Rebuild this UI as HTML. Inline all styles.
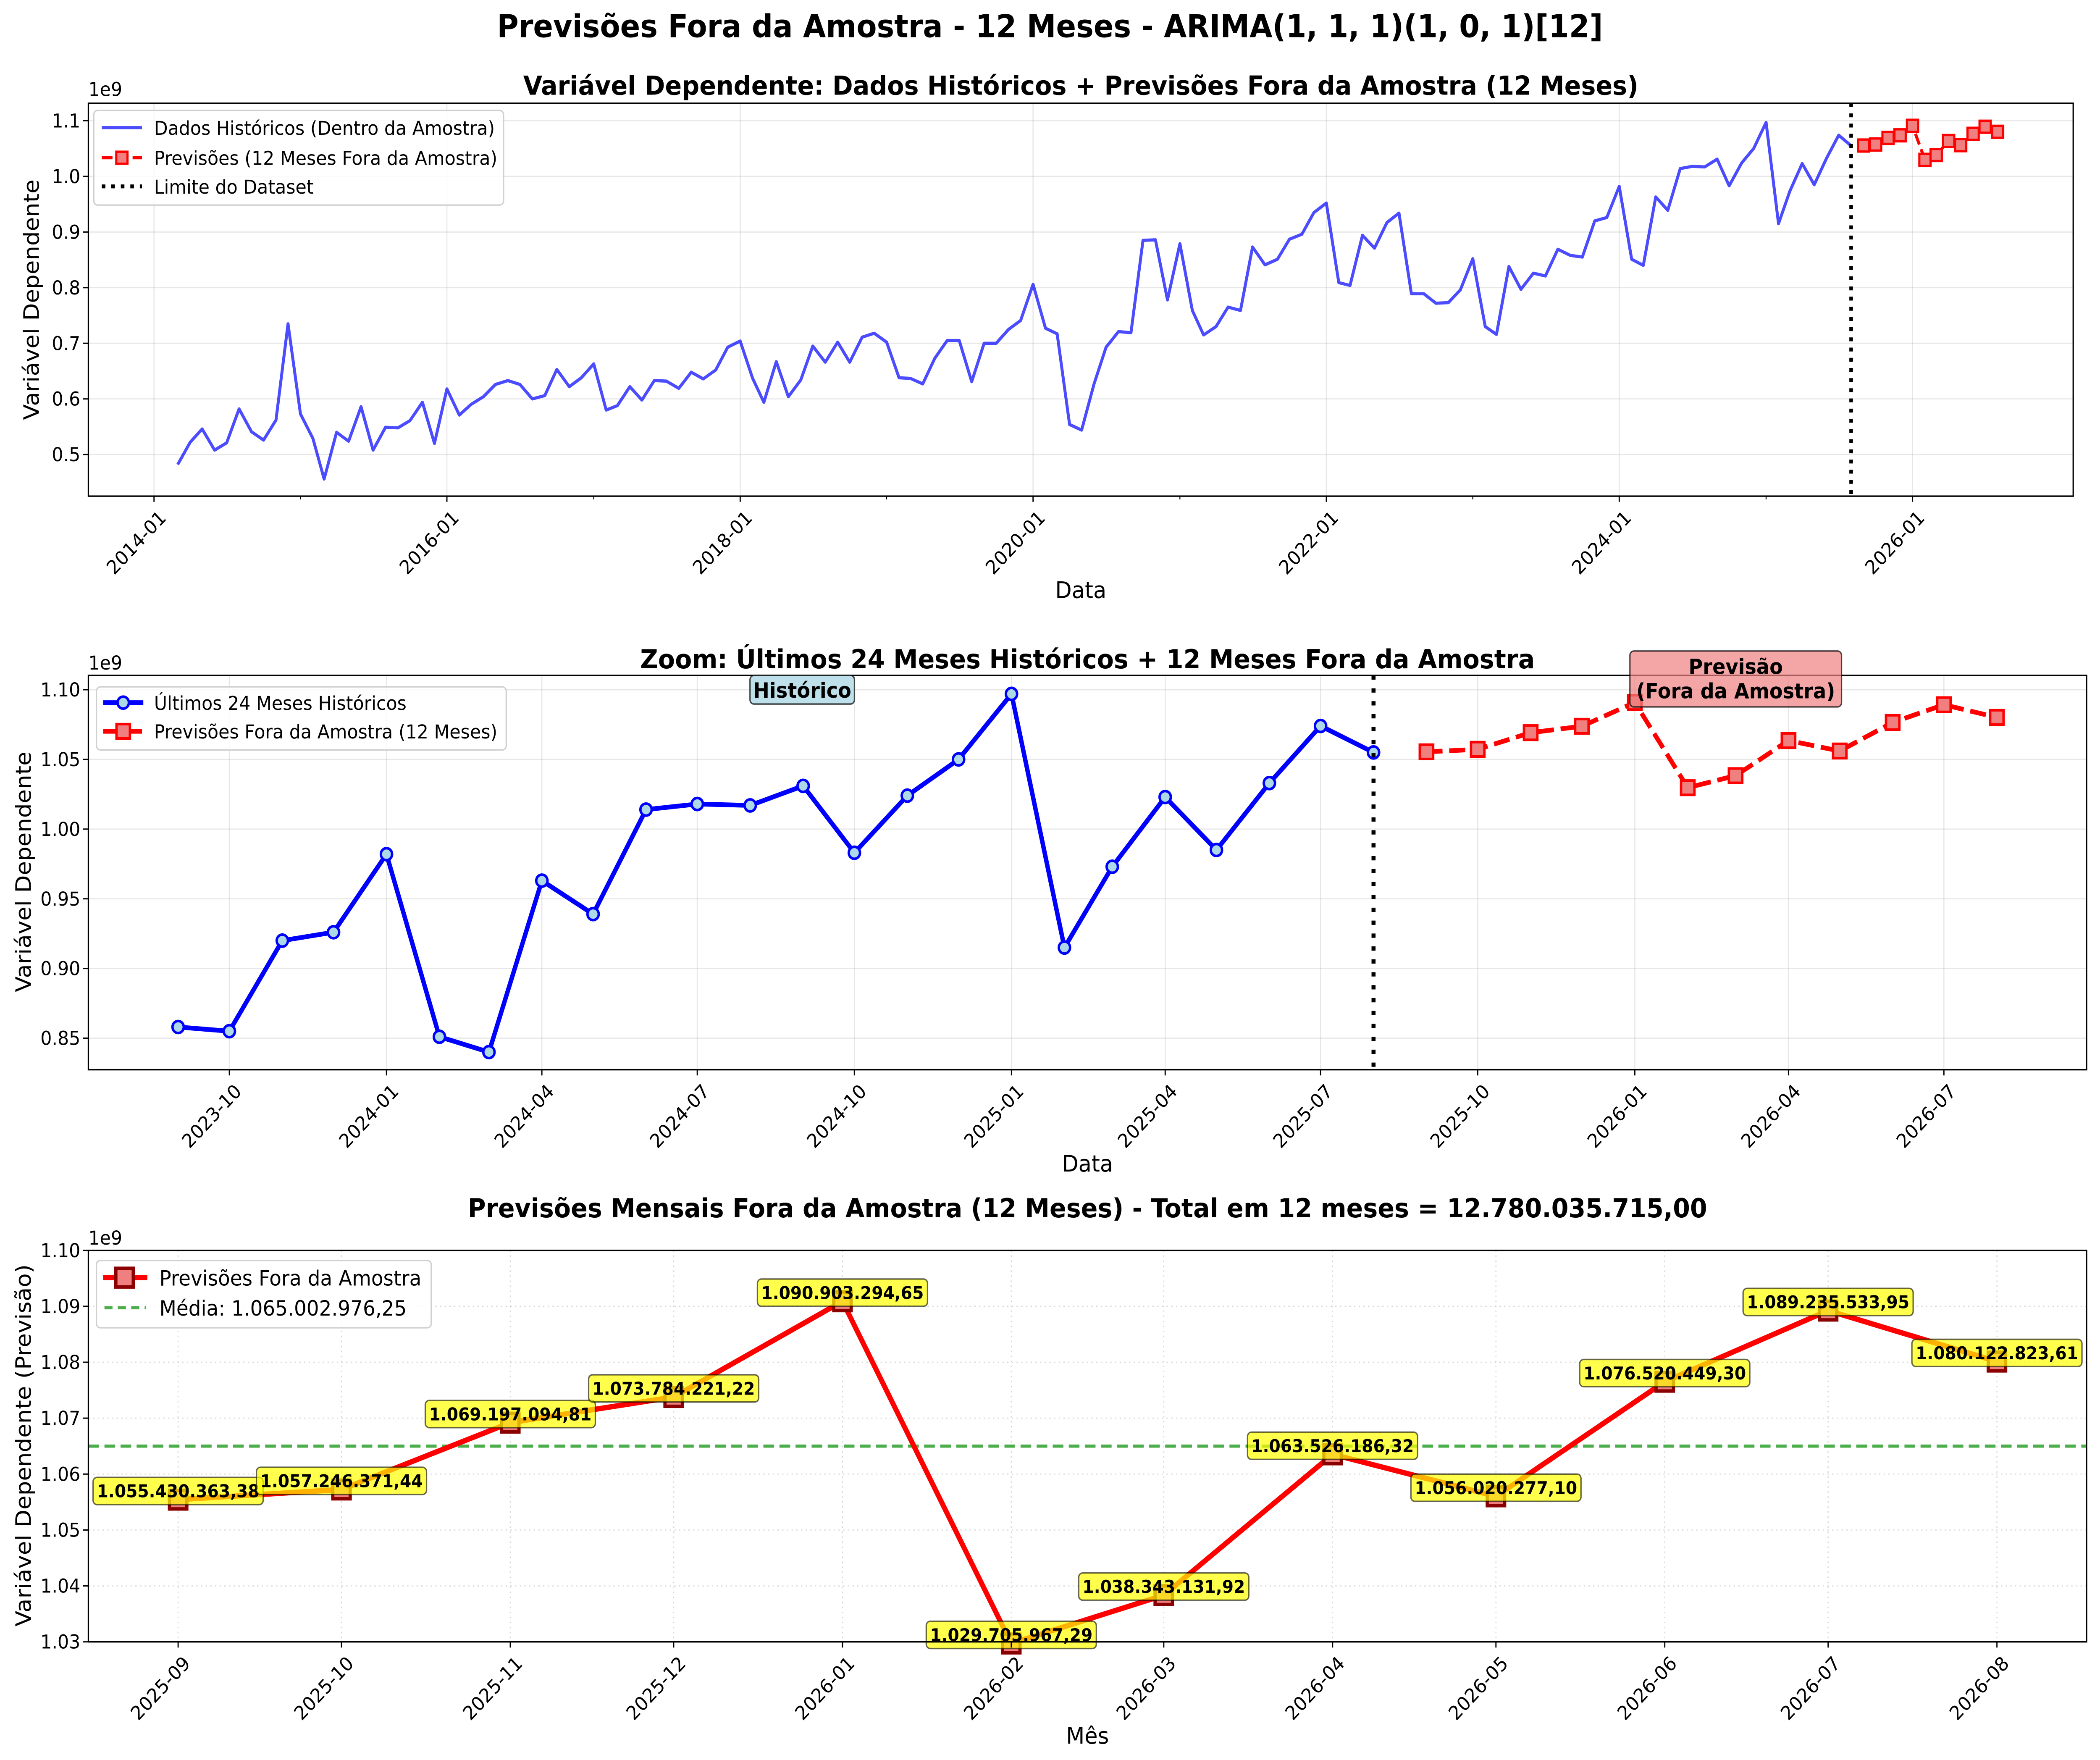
<!DOCTYPE html>
<html><head><meta charset="utf-8">
<style>
html,body{margin:0;padding:0;background:#fff;overflow:hidden;width:100%;height:100%;}
svg{display:block;position:fixed;left:0;top:0;width:100%;height:100%;}
text{font-family:"DejaVu Sans","Liberation Sans",sans-serif;}
</style></head>
<body>
<svg id="fig" xmlns="http://www.w3.org/2000/svg" viewBox="0 0 1568 1227.4" preserveAspectRatio="none">
<rect x="0" y="0" width="1568" height="1228" fill="#fff"/>
</svg>
<script>
// ---------- DATA ----------
const histStart = [2014, 3];
const histValues = [0.482,0.522,0.546,0.508,0.521,0.582,0.541,0.526,0.562,0.735,
0.573,0.529,0.456,0.540,0.524,0.586,0.508,0.549,0.548,0.561,0.594,0.520,
0.618,0.571,0.590,0.604,0.626,0.633,0.626,0.600,0.606,0.653,0.622,0.638,
0.663,0.580,0.588,0.622,0.598,0.633,0.632,0.619,0.648,0.636,0.652,0.693,
0.704,0.637,0.594,0.667,0.604,0.634,0.695,0.666,0.702,0.666,0.711,0.718,
0.702,0.638,0.637,0.627,0.673,0.705,0.705,0.631,0.700,0.700,0.725,0.741,
0.806,0.727,0.717,0.554,0.544,0.627,0.693,0.721,0.719,0.885,0.886,0.778,
0.879,0.759,0.715,0.730,0.765,0.759,0.873,0.841,0.851,0.887,0.896,0.935,
0.952,0.809,0.804,0.894,0.871,0.917,0.934,0.789,0.789,0.772,0.773,0.796,
0.852,0.730,0.716,0.838,0.797,0.826,0.821,0.869,
0.858,0.855,0.920,0.926,
0.982,0.851,0.840,0.963,0.939,1.014,1.018,1.017,1.031,0.983,1.024,1.050,
1.097,0.915,0.973,1.023,0.985,1.033,1.074,1.055];
const last24Start = [2023, 9];
const last24Values = [0.858,0.855,0.920,0.926,0.982,0.851,0.840,0.963,0.939,1.014,1.018,1.017,1.031,0.983,1.024,1.050,1.097,0.915,0.973,1.023,0.985,1.033,1.074,1.055];
const fcStart = [2025, 9];
const fcValues = [1055430363.38,1057246371.44,1069197094.81,1073784221.22,1090903294.65,1029705967.29,1038343131.92,1063526186.32,1056020277.10,1076520449.30,1089235533.95,1080122823.61];
const meanValue = 1065002976.25;
const totalValue = 12780035715.00;
const ticks1Y = [0.5,0.6,0.7,0.8,0.9,1.0,1.1];
const ticks1Years = [2014,2016,2018,2020,2022,2024,2026];
const ticks2Y = [0.85,0.90,0.95,1.00,1.05,1.10];
const ticks2Months = [[2023,10],[2024,1],[2024,4],[2024,7],[2024,10],[2025,1],[2025,4],[2025,7],[2025,10],[2026,1],[2026,4],[2026,7]];
const ticks3Y = [1.03,1.04,1.05,1.06,1.07,1.08,1.09,1.10];

// ---------- HELPERS ----------
const NS = "http://www.w3.org/2000/svg";
const svg = document.getElementById('fig');
const FT = 13.4;   // tick font
const FL = 13.4;   // legend font
const FTI = 18.4;  // axes title
const FAX = 16;    // axis label
function el(tag, attrs, parent){ const e=document.createElementNS(NS,tag); for(const k in attrs) e.setAttribute(k,attrs[k]); (parent||svg).appendChild(e); return e; }
function txt(s, attrs, parent){ const t=el('text',attrs,parent); t.textContent=s; return t; }
function dayNum(y,m){ return Date.UTC(y,m-1,1)/86400000; }
function addMonths(start,i){ let y=start[0], m=start[1]+i; while(m>12){m-=12;y++;} return [y,m]; }
function fmtBR(v){ const neg=v<0; v=Math.abs(v); const s=v.toFixed(2); let [ip,dp]=s.split('.'); ip=ip.replace(/\B(?=(\d{3})+(?!\d))/g,'.'); return (neg?'-':'')+ip+','+dp; }
function pad2(n){ return (n<10?'0':'')+n; }
function xtickLabel(g, x, yAxis, label){
  const t=txt(label,{x:x+3,y:yAxis+9,'text-anchor':'end','dominant-baseline':'hanging','font-size':FT,transform:`rotate(-45 ${x+3} ${yAxis+9})`,fill:'#000'},g);
  
  
}

// ---------- SUPTITLE ----------
const sup = txt('Previsões Fora da Amostra - 12 Meses - ARIMA(1, 1, 1)(1, 0, 1)[12]',{x:784,y:26,'text-anchor':'middle','font-size':22,'font-weight':'bold'});



// ================= CHART 1 =================
(function(){
  const g=el('g',{});
  
  
  const L=66,R=1548,T=72,B=346;
  const d0=dayNum(2014,1), px=0.29957, x0=115;
  const X=(y,m)=>x0+(dayNum(y,m)-d0)*px;
  const Y=v=>317-(v-0.5)*388;
  ticks1Y.forEach(v=>{ const l=el('line',{x1:L,x2:R,y1:Y(v),y2:Y(v),stroke:'#b0b0b0','stroke-opacity':0.3,'stroke-width':0.8},g);
      });
  ticks1Years.forEach(yr=>{ const x=X(yr,1); const l=el('line',{x1:x,x2:x,y1:T,y2:B,stroke:'#b0b0b0','stroke-opacity':0.3,'stroke-width':0.8},g);
      });
  const pts=histValues.map((v,i)=>{const [y,m]=addMonths(histStart,i); return X(y,m)+','+Y(v);}).join(' ');
  const hl=el('polyline',{points:pts,fill:'none',stroke:'#0000ff','stroke-opacity':0.7,'stroke-width':2.2,'stroke-linejoin':'round'},g);
   
  const [ly,lm]=addMonths(histStart,histValues.length-1);
  const bx=X(ly,lm);
  const bl=el('line',{x1:bx,x2:bx,y1:T,y2:B,stroke:'#000','stroke-width':2.7,'stroke-dasharray':'2.7 4.4'},g);
   
  const fp=fcValues.map((v,i)=>{const [y,m]=addMonths(fcStart,i); return [X(y,m),Y(v/1e9)];});
  const fl=el('polyline',{points:fp.map(p=>p.join(',')).join(' '),fill:'none',stroke:'#ff0000','stroke-width':2.2,'stroke-dasharray':'8 3.5'},g);
   
  fp.forEach(p=>{ const r=el('rect',{x:p[0]-4.2,y:p[1]-4.2,width:8.4,height:8.4,fill:'#f08080',stroke:'#ff0000','stroke-width':1.6},g);
      });
  const fr=el('rect',{x:L,y:T,width:R-L,height:B-T,fill:'none',stroke:'#000','stroke-width':1},g);
   
  ticks1Y.forEach(v=>{ el('line',{x1:L-4,x2:L,y1:Y(v),y2:Y(v),stroke:'#000','stroke-width':0.9},g);
    const t=txt(v.toFixed(1),{x:L-6,y:Y(v)+4.7,'text-anchor':'end','font-size':FT},g);
      });
  for(let yr=2014; yr<=2026; yr++){ const x=X(yr,1); const major=ticks1Years.includes(yr);
    el('line',{x1:x,x2:x,y1:B,y2:B+(major?4:2.3),stroke:'#000','stroke-width':major?0.9:0.7},g);
    if(major) xtickLabel(g,x,B,yr+'-01'); }
  const e9=txt('1e9',{x:L,y:67,'font-size':FT},g);  
  const tt=txt('Variável Dependente: Dados Históricos + Previsões Fora da Amostra (12 Meses)',{x:807,y:66,'text-anchor':'middle','font-size':FTI,'font-weight':'bold'},g);
   
  const xl=txt('Data',{x:807,y:417,'text-anchor':'middle','font-size':FAX},g);  
  const yl=txt('Variável Dependente',{x:0,y:0,'text-anchor':'middle','font-size':FAX,transform:'translate(29 209) rotate(-90)'},g);
   
  const lg=el('g',{},g);  
  el('rect',{x:70,y:77,width:306,height:66,rx:3,fill:'#fff','fill-opacity':0.8,stroke:'#d0d0d0','stroke-width':1},lg);
  el('line',{x1:76,x2:106,y1:89,y2:89,stroke:'#0000ff','stroke-opacity':0.7,'stroke-width':2.2},lg);
  let t=txt('Dados Históricos (Dentro da Amostra)',{x:115,y:94,'font-size':FL},lg);  
  el('line',{x1:76,x2:106,y1:110,y2:110,stroke:'#ff0000','stroke-width':2.2,'stroke-dasharray':'8 3.5'},lg);
  el('rect',{x:86.8,y:105.8,width:8.4,height:8.4,fill:'#f08080',stroke:'#ff0000','stroke-width':1.6},lg);
  t=txt('Previsões (12 Meses Fora da Amostra)',{x:115,y:115,'font-size':FL},lg);  
  el('line',{x1:76,x2:106,y1:130,y2:130,stroke:'#000','stroke-width':2.7,'stroke-dasharray':'2.7 4.4'},lg);
  t=txt('Limite do Dataset',{x:115,y:135,'font-size':FL},lg);  
})();

// ================= CHART 2 =================
(function(){
  const g=el('g',{});
  
  
  const L=66,R=1558,T=471,B=746;
  const d0=dayNum(2023,9), px=1.2751, x0=133;
  const X=(y,m)=>x0+(dayNum(y,m)-d0)*px;
  const Y=v=>724-(v-0.85)*972;
  ticks2Y.forEach(v=>{ const l=el('line',{x1:L,x2:R,y1:Y(v),y2:Y(v),stroke:'#b0b0b0','stroke-opacity':0.3,'stroke-width':0.8},g);
      });
  ticks2Months.forEach(([y,m])=>{ const x=X(y,m); const l=el('line',{x1:x,x2:x,y1:T,y2:B,stroke:'#b0b0b0','stroke-opacity':0.3,'stroke-width':0.8},g);
      });
  const hp=last24Values.map((v,i)=>{const [y,m]=addMonths(last24Start,i); return [X(y,m),Y(v)];});
  const hl=el('polyline',{points:hp.map(p=>p.join(',')).join(' '),fill:'none',stroke:'#0000ff','stroke-width':3.3,'stroke-linejoin':'round'},g);
   
  hp.forEach(p=>{ const c=el('circle',{cx:p[0],cy:p[1],r:4.2,fill:'#add8e6',stroke:'#0000ff','stroke-width':1.8},g);
      });
  const bx=hp[hp.length-1][0];
  const bl=el('line',{x1:bx,x2:bx,y1:T,y2:B,stroke:'#000','stroke-width':3,'stroke-dasharray':'3 6'},g);
   
  const fp=fcValues.map((v,i)=>{const [y,m]=addMonths(fcStart,i); return [X(y,m),Y(v/1e9)];});
  const fl=el('polyline',{points:fp.map(p=>p.join(',')).join(' '),fill:'none',stroke:'#ff0000','stroke-width':3.3,'stroke-dasharray':'12 5'},g);
   
  fp.forEach(p=>{ const r=el('rect',{x:p[0]-5,y:p[1]-5,width:10,height:10,fill:'#f08080',stroke:'#ff0000','stroke-width':1.8},g);
      });
  el('rect',{x:L,y:T,width:R-L,height:B-T,fill:'none',stroke:'#000','stroke-width':1},g);
  ticks2Y.forEach(v=>{ el('line',{x1:L-4,x2:L,y1:Y(v),y2:Y(v),stroke:'#000','stroke-width':0.9},g);
    const t=txt(v.toFixed(2),{x:L-6,y:Y(v)+4.7,'text-anchor':'end','font-size':FT},g);
      });
  ticks2Months.forEach(([y,m])=>{ const x=X(y,m); el('line',{x1:x,x2:x,y1:B,y2:B+4,stroke:'#000','stroke-width':0.9},g); xtickLabel(g,x,B,y+'-'+pad2(m)); });
  const e9=txt('1e9',{x:L,y:467,'font-size':FT},g);  
  const tt=txt('Zoom: Últimos 24 Meses Históricos + 12 Meses Fora da Amostra',{x:812,y:466,'text-anchor':'middle','font-size':FTI,'font-weight':'bold'},g);
   
  const xl=txt('Data',{x:812,y:817,'text-anchor':'middle','font-size':FAX},g);  
  const yl=txt('Variável Dependente',{x:0,y:0,'text-anchor':'middle','font-size':FAX,transform:'translate(23 608) rotate(-90)'},g);
   
  const a1=el('g',{},g);  
  el('rect',{x:560,y:471,width:78,height:20,rx:3,fill:'#add8e6','fill-opacity':0.8,stroke:'#000','stroke-opacity':0.7,'stroke-width':1},a1);
  txt('Histórico',{x:599,y:486.5,'text-anchor':'middle','font-size':14.5,'font-weight':'bold'},a1);
  const a2=el('g',{},g);  
  el('rect',{x:1217,y:454,width:158,height:39,rx:3,fill:'#f08080','fill-opacity':0.7,stroke:'#000','stroke-opacity':0.7,'stroke-width':1},a2);
  txt('Previsão',{x:1296,y:470,'text-anchor':'middle','font-size':14.5,'font-weight':'bold'},a2);
  txt('(Fora da Amostra)',{x:1296,y:487,'text-anchor':'middle','font-size':14.5,'font-weight':'bold'},a2);
  const lg=el('g',{},g);  
  el('rect',{x:72,y:479,width:306,height:44,rx:3,fill:'#fff','fill-opacity':0.8,stroke:'#d0d0d0','stroke-width':1},lg);
  el('line',{x1:77,x2:107,y1:490,y2:490,stroke:'#0000ff','stroke-width':3.3},lg);
  el('circle',{cx:92,cy:490,r:4.2,fill:'#add8e6',stroke:'#0000ff','stroke-width':1.8},lg);
  let t=txt('Últimos 24 Meses Históricos',{x:115,y:495,'font-size':FL},lg);  
  el('line',{x1:77,x2:107,y1:510,y2:510,stroke:'#ff0000','stroke-width':3.3,'stroke-dasharray':'12 5'},lg);
  el('rect',{x:87,y:505,width:10,height:10,fill:'#f08080',stroke:'#ff0000','stroke-width':1.8},lg);
  t=txt('Previsões Fora da Amostra (12 Meses)',{x:115,y:515,'font-size':FL},lg);  
})();

// ================= CHART 3 =================
(function(){
  const g=el('g',{});
  
  
  const L=66,R=1558,T=872,B=1145;
  const d0=dayNum(2025,9), px=4.066, x0=133;
  const X=(y,m)=>x0+(dayNum(y,m)-d0)*px;
  const Y=v=>1145-(v-1.03)*3900;
  const fp=fcValues.map((v,i)=>{const [y,m]=addMonths(fcStart,i); return [X(y,m),Y(v/1e9),y,m,v];});
  ticks3Y.forEach(v=>{ const l=el('line',{x1:L,x2:R,y1:Y(v),y2:Y(v),stroke:'#b0b0b0','stroke-opacity':0.5,'stroke-width':0.8,'stroke-dasharray':'1 2.5'},g);
      });
  fp.forEach(p=>{ const l=el('line',{x1:p[0],x2:p[0],y1:T,y2:B,stroke:'#b0b0b0','stroke-opacity':0.5,'stroke-width':0.8,'stroke-dasharray':'1 2.5'},g);
      });
  const ml=el('line',{x1:L,x2:R,y1:Y(meanValue/1e9),y2:Y(meanValue/1e9),stroke:'#2ca02c','stroke-opacity':0.85,'stroke-width':2.2,'stroke-dasharray':'8 4'},g);
   
  const fl=el('polyline',{points:fp.map(p=>p[0]+','+p[1]).join(' '),fill:'none',stroke:'#ff0000','stroke-width':3.7,'stroke-linejoin':'round'},g);
   
  fp.forEach(p=>{ const r=el('rect',{x:p[0]-6.5,y:p[1]-6.5,width:13,height:13,fill:'#f08080',stroke:'#8b0000','stroke-width':2.4},g);
      });
  fp.forEach(p=>{ const lab=fmtBR(p[4]); const w=127, h=19, cy=p[1]-6;
    const ag=el('g',{},g);
    
    
    el('rect',{x:p[0]-w/2,y:cy-h/2,width:w,height:h,rx:3,fill:'#ffff00','fill-opacity':0.7,stroke:'#000','stroke-opacity':0.6,'stroke-width':1},ag);
    txt(lab,{x:p[0],y:cy+4.4,'text-anchor':'middle','font-size':12.3,'font-weight':'bold'},ag); });
  el('rect',{x:L,y:T,width:R-L,height:B-T,fill:'none',stroke:'#000','stroke-width':1},g);
  ticks3Y.forEach(v=>{ el('line',{x1:L-4,x2:L,y1:Y(v),y2:Y(v),stroke:'#000','stroke-width':0.9},g);
    const t=txt(v.toFixed(2),{x:L-6,y:Y(v)+4.7,'text-anchor':'end','font-size':FT},g);
      });
  fp.forEach(p=>{ el('line',{x1:p[0],x2:p[0],y1:B,y2:B+4,stroke:'#000','stroke-width':0.9},g); xtickLabel(g,p[0],B,p[2]+'-'+pad2(p[3])); });
  const e9=txt('1e9',{x:L,y:868,'font-size':FT},g);  
  const tt=txt('Previsões Mensais Fora da Amostra (12 Meses) - Total em 12 meses = '+fmtBR(totalValue),{x:812,y:849,'text-anchor':'middle','font-size':FTI,'font-weight':'bold'},g);
   
  const xl=txt('Mês',{x:812,y:1216,'text-anchor':'middle','font-size':FAX},g);  
  const yl=txt('Variável Dependente (Previsão)',{x:0,y:0,'text-anchor':'middle','font-size':FAX,transform:'translate(23 1008) rotate(-90)'},g);
   
  const lg=el('g',{},g);  
  el('rect',{x:72,y:879,width:250,height:47,rx:3,fill:'#fff','fill-opacity':0.8,stroke:'#d0d0d0','stroke-width':1},lg);
  el('line',{x1:77,x2:110,y1:891,y2:891,stroke:'#ff0000','stroke-width':3.7},lg);
  el('rect',{x:86.5,y:884.5,width:13,height:13,fill:'#f08080',stroke:'#8b0000','stroke-width':2.4},lg);
  let t=txt('Previsões Fora da Amostra',{x:119,y:896.5,'font-size':14.7},lg);  
  el('line',{x1:78,x2:109,y1:912,y2:912,stroke:'#2ca02c','stroke-opacity':0.85,'stroke-width':2.2,'stroke-dasharray':'6 4'},lg);
  t=txt('Média: '+fmtBR(meanValue),{x:119,y:917.5,'font-size':14.7},lg);  
})();
</script>
</body></html>
